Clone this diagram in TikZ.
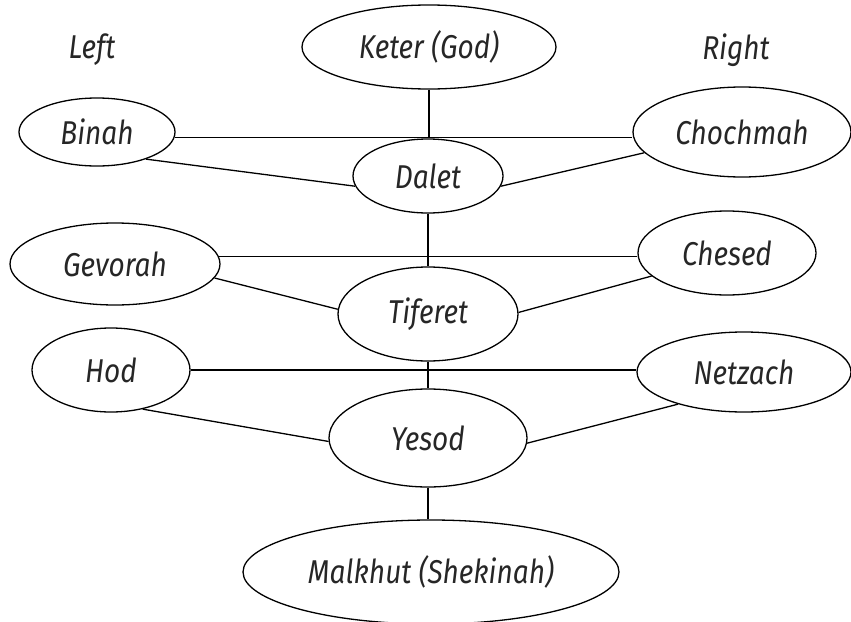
\documentclass[tikz,border=0pt]{standalone}
\usepackage{fontspec}
\setmainfont{Fira Sans}[FakeStretch=0.85]
\usetikzlibrary{shapes.geometric}
\newcommand{\lbl}[1]{\makebox[0pt][c]{#1}}
\tikzset{
  sef/.style={draw, ellipse, line width=1.3pt, inner sep=0pt, font=\fontsize{33}{33}\selectfont\itshape, text=black!85},
  side/.style={inner sep=0pt, font=\fontsize{33}{33}\selectfont\itshape, text=black!85},
  conn/.style={line width=1.3pt}
}
\begin{document}
\begin{tikzpicture}[x=1pt,y=-1pt]
\useasboundingbox (0,0) rectangle (851,621);
\node[side] (left) at (92,50) {Left};
\node[side] (right) at (736,50) {Right};
\node[sef, minimum width=254, minimum height=84] (keter) at (429,47) {\lbl{Keter (God)}};
\node[sef, minimum width=156, minimum height=68] (binah) at (97,132) {\lbl{Binah}};
\node[sef, minimum width=218, minimum height=90] (chochmah) at (742,132) {\lbl{Chochmah}};
\node[sef, minimum width=150, minimum height=74] (dalet) at (428,176) {\lbl{Dalet}};
\node[sef, minimum width=210, minimum height=82] (gevorah) at (115,264) {\lbl{Gevorah}};
\node[sef, minimum width=178, minimum height=84] (chesed) at (727,253) {\lbl{Chesed}};
\node[sef, minimum width=180, minimum height=94] (tiferet) at (428,314) {\lbl{Tiferet}};
\node[sef, minimum width=158, minimum height=84] (hod) at (111,370) {\lbl{Hod}};
\node[sef, minimum width=214, minimum height=80] (netzach) at (744,372) {\lbl{Netzach}};
\node[sef, minimum width=198, minimum height=98] (yesod) at (428,438) {\lbl{Yesod}};
\node[sef, minimum width=376, minimum height=104] (malkhut) at (431,572) {\lbl{Malkhut (Shekinah)}};
% verticals
\draw[conn] (keter.south) -- (keter.south |- dalet.north);
\draw[conn] (dalet.south) -- (dalet.south |- tiferet.north);
\draw[conn] (tiferet.south) -- (tiferet.south |- yesod.north);
\draw[conn] (yesod.south) -- (yesod.south |- malkhut.north);
% horizontals
\draw[conn] (binah.-4) -- (binah.-4 -| chochmah.west);
\draw[conn] (gevorah.4) -- (gevorah.4 -| chesed.west);
\draw[conn] (hod.east) -- (hod.east -| netzach.west);
% diagonals
\draw[conn] (binah.-29) -- (dalet.188);
\draw[conn] (chochmah.192) -- (dalet.-8);
\draw[conn] (gevorah.-8) -- (tiferet.177);
\draw[conn] (chesed.197) -- (tiferet.1);
\draw[conn] (hod.-51) -- (yesod.182);
\draw[conn] (netzach.206) -- (yesod.-3);
\end{tikzpicture}
\end{document}
